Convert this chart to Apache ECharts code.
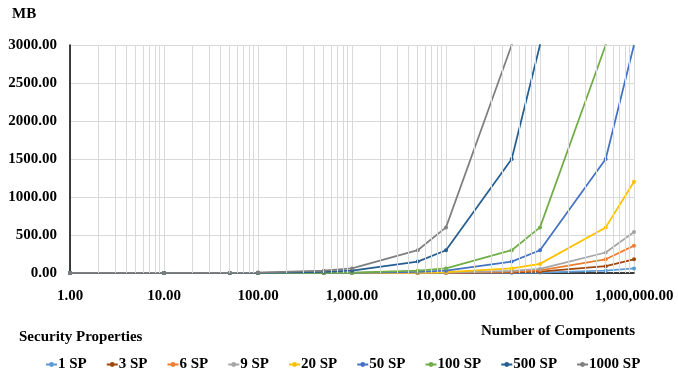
<!DOCTYPE html>
<html>
<head>
<meta charset="utf-8">
<script src="https://cdn.jsdelivr.net/npm/echarts@6/dist/echarts.min.js"></script>
<style>
html,body{margin:0;padding:0;background:#fff;}
#chart{width:678px;height:376px;}
</style>
</head>
<body>
<div id="chart"></div>
<script>
// Number of components (x values)
const components = [1, 10, 50, 100, 500, 1000, 5000, 10000, 50000, 100000, 500000, 1000000];
const seriesNames = ['1 SP', '3 SP', '6 SP', '9 SP', '20 SP', '50 SP', '100 SP', '500 SP', '1000 SP'];
// Memory (MB) per series
const sp1    = [0.00006, 0.0006, 0.003, 0.006, 0.03, 0.06, 0.3, 0.6, 3, 6, 30, 60];
const sp3    = [0.00018, 0.0018, 0.009, 0.018, 0.09, 0.18, 0.9, 1.8, 9, 18, 90, 180];
const sp6    = [0.00036, 0.0036, 0.018, 0.036, 0.18, 0.36, 1.8, 3.6, 18, 36, 180, 360];
const sp9    = [0.00054, 0.0054, 0.027, 0.054, 0.27, 0.54, 2.7, 5.4, 27, 54, 270, 540];
const sp20   = [0.0012, 0.012, 0.06, 0.12, 0.6, 1.2, 6, 12, 60, 120, 600, 1200];
const sp50   = [0.003, 0.03, 0.15, 0.3, 1.5, 3, 15, 30, 150, 300, 1500, 3000];
const sp100  = [0.006, 0.06, 0.3, 0.6, 3, 6, 30, 60, 300, 600, 3000, 6000];
const sp500  = [0.03, 0.3, 1.5, 3, 15, 30, 150, 300, 1500, 3000, 15000, 30000];
const sp1000 = [0.06, 0.6, 3, 6, 30, 60, 300, 600, 3000, 6000, 30000, 60000];
const seriesValues = [sp1, sp3, sp6, sp9, sp20, sp50, sp100, sp500, sp1000];
const colors = ['#5B9BD5', '#9E480E', '#ED7D31', '#A5A5A5', '#FFC000', '#4472C4', '#70AD47', '#255E91', '#7F7F7F'];
const yTicks = [0, 500, 1000, 1500, 2000, 2500, 3000];
const minorMultipliers = [2, 3, 4, 5, 6, 7, 8, 9];
const decades = [1, 10, 100, 1000, 10000, 100000];

const FONT = '"Liberation Serif", "Times New Roman", serif';
const FS = 15;
const yMax = yTicks[yTicks.length - 1];

const minorLines = [];
decades.forEach(d => minorMultipliers.forEach(m => minorLines.push({ xAxis: d * m })));

const series = seriesNames.map((name, i) => ({
  name: name,
  type: 'line',
  data: components.map((c, j) => {
    const v = seriesValues[i][j];
    return v >= yMax ? { value: [c, v], symbol: 'none' } : { value: [c, v] };
  }),
  symbol: 'circle',
  symbolSize: 4,
  showSymbol: true,
  clip: true,
  z: 3,
  lineStyle: { width: 1.75, color: colors[i] },
  itemStyle: { color: colors[i] },
  emphasis: { disabled: true }
}));

series.unshift({
  name: 'minor-grid',
  type: 'line',
  data: [],
  z: 1,
  silent: true,
  markLine: {
    silent: true,
    symbol: ['none', 'none'],
    label: { show: false },
    animation: false,
    lineStyle: { color: '#d9d9d9', width: 1, type: 'solid' },
    emphasis: { disabled: true },
    data: minorLines
  }
});

const chart = echarts.init(document.getElementById('chart'), null, { renderer: 'canvas' });
chart.setOption({
  animation: false,
  backgroundColor: '#fff',
  color: colors,
  textStyle: { fontFamily: FONT },
  grid: { left: 70, right: 44, top: 45, bottom: 103, containLabel: false },
  xAxis: {
    type: 'log',
    logBase: 10,
    min: 1,
    max: 1000000,
    axisLine: { show: true, onZero: false, lineStyle: { color: '#000', width: 1.5 } },
    axisTick: { show: false },
    splitLine: { show: true, lineStyle: { color: '#d9d9d9', width: 1 } },
    axisLabel: {
      margin: 16,
      fontFamily: FONT, fontSize: FS, fontWeight: 'bold', color: '#000',
      formatter: v => Number(v).toLocaleString('en-US', { minimumFractionDigits: 2, maximumFractionDigits: 2 })
    }
  },
  yAxis: {
    type: 'value',
    min: yTicks[0],
    max: yMax,
    interval: yTicks[1] - yTicks[0],
    axisLine: { show: true, lineStyle: { color: '#000', width: 1.5 } },
    axisTick: { show: false },
    splitLine: { show: true, lineStyle: { color: '#d9d9d9', width: 1 } },
    axisLabel: {
      margin: 13,
      fontFamily: FONT, fontSize: FS, fontWeight: 'bold', color: '#000',
      formatter: v => Number(v).toFixed(2)
    }
  },
  legend: {
    data: seriesNames,
    left: 40,
    top: 352,
    itemWidth: 11,
    itemHeight: 6,
    itemGap: 19,
    textStyle: { fontFamily: FONT, fontSize: FS, fontWeight: 'bold', color: '#000', padding: [0, 0, 0, -4] }
  },
  graphic: [
    { type: 'text', left: 12, top: 7, style: { text: 'MB', font: 'bold ' + FS + 'px ' + FONT, fill: '#000' } },
    { type: 'text', left: 19, top: 330, style: { text: 'Security Properties', font: 'bold ' + FS + 'px ' + FONT, fill: '#000' } },
    { type: 'text', left: 481, top: 324, style: { text: 'Number of Components', font: 'bold ' + FS + 'px ' + FONT, fill: '#000' } }
  ],
  series: series
});
</script>
</body>
</html>
